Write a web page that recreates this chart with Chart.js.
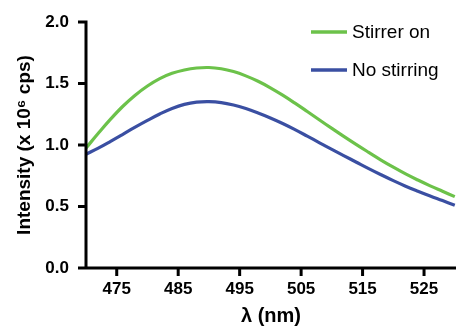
<!DOCTYPE html>
<html>
<head>
<meta charset="utf-8">
<script src="https://cdn.jsdelivr.net/npm/chart.js@4.4.0/dist/chart.umd.min.js"></script>
<style>
  html, body { margin: 0; padding: 0; background: #fff; }
  #wrap { position: relative; width: 456px; height: 328px; }
</style>
</head>
<body>
<div id="wrap"><canvas id="chart"></canvas></div>
<script>
// wavelength (nm)
const wavelengths = [470, 472, 474, 476, 478, 480, 482, 484, 486, 488, 490, 492, 494, 496, 498, 500,
  502, 504, 506, 508, 510, 512, 514, 516, 518, 520, 522, 524, 526, 528, 530];
// intensity (x 10^6 cps)
const stirrerOn = [0.975, 1.095, 1.21, 1.315, 1.405, 1.48, 1.54, 1.583, 1.61, 1.626, 1.63, 1.62, 1.597, 1.562, 1.518, 1.465,
  1.405, 1.34, 1.272, 1.203, 1.135, 1.068, 1.003, 0.94, 0.878, 0.82, 0.765, 0.715, 0.668, 0.624, 0.58];
const noStirring = [0.925, 0.975, 1.03, 1.087, 1.145, 1.2, 1.252, 1.297, 1.33, 1.348, 1.352, 1.345, 1.325, 1.296, 1.26, 1.22,
  1.175, 1.125, 1.072, 1.018, 0.965, 0.912, 0.86, 0.808, 0.758, 0.71, 0.665, 0.624, 0.585, 0.548, 0.51];
const xTicks = [475, 485, 495, 505, 515, 525];
const yTicks = [0, 0.5, 1.0, 1.5, 2.0];

const GREEN = '#6cc24a';
const BLUE = '#3a4fa2';
const FONT = "'Liberation Sans', Arial, Helvetica, sans-serif";
const TICK_LEN = 8;

function pts(ys) {
  return wavelengths.map((x, i) => ({ x, y: ys[i] }));
}

// black axis lines with outward tick marks, placed through the scales
const axisFrame = {
  id: 'axisFrame',
  afterDraw(chart) {
    const { ctx, chartArea: a, scales } = chart;
    const xs = scales.x, ys = scales.y;
    const x0 = a.left, y0 = a.bottom;
    ctx.save();
    ctx.strokeStyle = '#000';
    ctx.lineWidth = 3;
    ctx.lineCap = 'butt';
    ctx.beginPath();
    ctx.moveTo(x0, ys.getPixelForValue(2) - 1.5);
    ctx.lineTo(x0, y0 + 1.5);
    ctx.moveTo(x0 - 1.5, y0);
    ctx.lineTo(chart.width, y0);
    yTicks.forEach((v) => {
      const p = ys.getPixelForValue(v);
      ctx.moveTo(x0 - TICK_LEN, p);
      ctx.lineTo(x0, p);
    });
    xTicks.forEach((v) => {
      const p = xs.getPixelForValue(v);
      ctx.moveTo(p, y0);
      ctx.lineTo(p, y0 + TICK_LEN);
    });
    ctx.stroke();
    ctx.restore();
  },
};

// legend drawn inside the plot, top right
const insideLegend = {
  id: 'insideLegend',
  afterDraw(chart) {
    const ctx = chart.ctx;
    const x0 = 311, x1 = 347, rows = [32, 70];
    ctx.save();
    ctx.font = `19px ${FONT}`;
    ctx.textBaseline = 'middle';
    chart.data.datasets.forEach((ds, i) => {
      const y = rows[i];
      ctx.strokeStyle = ds.borderColor;
      ctx.lineWidth = 3.5;
      ctx.beginPath();
      ctx.moveTo(x0, y);
      ctx.lineTo(x1, y);
      ctx.stroke();
      ctx.fillStyle = '#000';
      ctx.fillText(ds.label, x1 + 5, y + 1);
    });
    ctx.restore();
  },
};

// grid kept on (for label spacing) but made invisible; the frame plugin draws the axes
const hiddenGrid = {
  display: true,
  drawOnChartArea: false,
  drawTicks: true,
  tickLength: TICK_LEN,
  color: 'rgba(0,0,0,0)',
  tickColor: 'rgba(0,0,0,0)',
};

new Chart(document.getElementById('chart'), {
  type: 'line',
  data: {
    datasets: [
      { label: 'Stirrer on', data: pts(stirrerOn), borderColor: GREEN, backgroundColor: GREEN },
      { label: 'No stirring', data: pts(noStirring), borderColor: BLUE, backgroundColor: BLUE },
    ],
  },
  options: {
    responsive: true,
    maintainAspectRatio: false,
    animation: false,
    layout: { padding: { top: 22, right: 0, left: 0, bottom: 0 } },
    elements: {
      line: { borderWidth: 3.2, tension: 0.4 },
      point: { radius: 0 },
    },
    plugins: {
      legend: { display: false },
      tooltip: { enabled: false },
    },
    scales: {
      x: {
        type: 'linear',
        min: 470,
        max: 530.2,
        afterBuildTicks: (axis) => { axis.ticks = xTicks.map((v) => ({ value: v })); },
        afterFit: (s) => { s.height = 60; },
        border: { display: false },
        grid: hiddenGrid,
        ticks: { color: '#000', font: { family: FONT, size: 17, weight: 'bold' }, padding: 3, maxRotation: 0 },
        title: {
          display: true,
          text: 'λ (nm)',
          color: '#000',
          font: { family: FONT, size: 20, weight: 'bold' },
          padding: { top: 0, bottom: 0 },
        },
      },
      y: {
        min: 0,
        max: 2,
        afterBuildTicks: (axis) => { axis.ticks = yTicks.map((v) => ({ value: v })); },
        afterFit: (s) => { s.width = 86; },
        border: { display: false },
        grid: hiddenGrid,
        ticks: {
          color: '#000',
          font: { family: FONT, size: 17, weight: 'bold' },
          padding: 9,
          callback: (v) => Number(v).toFixed(1),
        },
        title: {
          display: true,
          text: 'Intensity (x 10⁶ cps)',
          color: '#000',
          font: { family: FONT, size: 19, weight: 'bold' },
          padding: { top: 13, bottom: 0 },
        },
      },
    },
  },
  plugins: [axisFrame, insideLegend],
});
</script>
</body>
</html>
